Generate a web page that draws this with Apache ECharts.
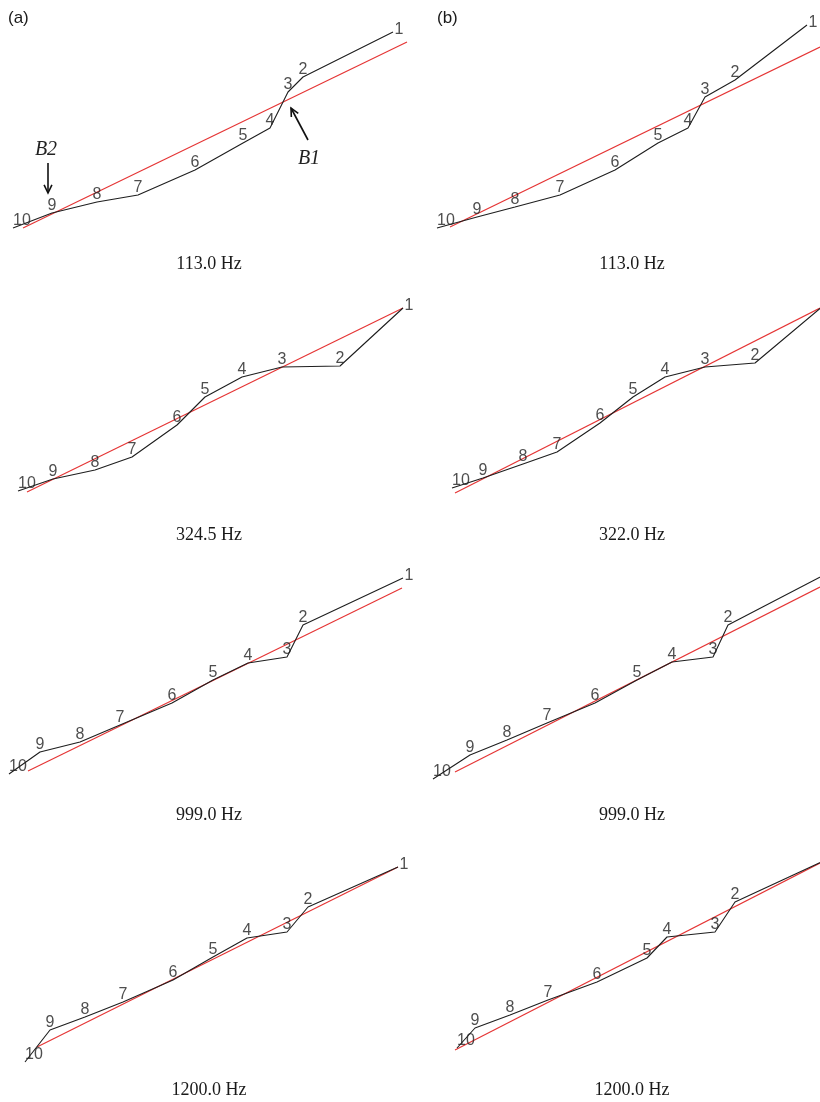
<!DOCTYPE html>
<html><head><meta charset="utf-8">
<script src="https://cdn.jsdelivr.net/npm/echarts@6/dist/echarts.min.js"></script>
<style>html,body{margin:0;padding:0;background:#fff}#c{width:820px;height:1102px}</style>
</head><body><div id="c"></div>
<script>
// Point labels (mode points 1..10)
const pointLabels = ['1','2','3','4','5','6','7','8','9','10'];
// Captions
const captionsA = ['113.0 Hz','324.5 Hz','999.0 Hz','1200.0 Hz'];
const captionsB = ['113.0 Hz','322.0 Hz','999.0 Hz','1200.0 Hz'];

// (a) 113.0 Hz
const a113X = [393,303,288,270,243,195,138,97,52,13];
const a113Y = [218,173,158,122,107,80,55,48,37,22];
const a113FitX = [23,407];
const a113FitY = [22,208];
// (b) 113.0 Hz
const b113X = [387,315,285,268,238,195,140,95,57,17];
const b113Y = [225,170,153,122,107,80,55,43,33,22];
const b113FitX = [30,400];
const b113FitY = [23,203];
// (a) 324.5 Hz
const a324X = [403,340,282,242,205,177,132,95,53,18];
const a324Y = [212,154,153,143,123,95,63,50,41,29];
const a324FitX = [27,403];
const a324FitY = [28,212];
// (b) 322.0 Hz
const b322X = [403,335,285,245,213,180,137,103,63,32];
const b322Y = [214,157,153,143,123,97,68,56,42,32];
const b322FitX = [35,400];
const b322FitY = [27,212];
// (a) 999.0 Hz
const a999X = [403,303,287,248,213,172,120,80,40,9];
const a999Y = [222,175,143,137,120,97,75,58,48,26];
const a999FitX = [28,402];
const a999FitY = [29,212];
// (b) 999.0 Hz
const b999X = [410,308,293,252,217,175,127,87,50,13];
const b999Y = [228,175,143,138,120,97,77,60,45,21];
const b999FitX = [35,400];
const b999FitY = [28,213];
// (a) 1200.0 Hz
const a1200X = [398,308,287,247,213,173,123,85,50,25];
const a1200Y = [203,163,138,132,113,90,68,53,40,8];
const a1200FitX = [37,398];
const a1200FitY = [23,203];
// (b) 1200.0 Hz
const b1200X = [410,315,295,247,227,177,128,90,55,37];
const b1200Y = [212,168,138,133,112,88,70,55,42,22];
const b1200FitX = [35,400];
const b1200FitY = [20,207];

const panels = [
  {x:a113X, y:a113Y, fx:a113FitX, fy:a113FitY, col:0, row:0, cap:captionsA[0]},
  {x:b113X, y:b113Y, fx:b113FitX, fy:b113FitY, col:1, row:0, cap:captionsB[0]},
  {x:a324X, y:a324Y, fx:a324FitX, fy:a324FitY, col:0, row:1, cap:captionsA[1]},
  {x:b322X, y:b322Y, fx:b322FitX, fy:b322FitY, col:1, row:1, cap:captionsB[1]},
  {x:a999X, y:a999Y, fx:a999FitX, fy:a999FitY, col:0, row:2, cap:captionsA[2]},
  {x:b999X, y:b999Y, fx:b999FitX, fy:b999FitY, col:1, row:2, cap:captionsB[2]},
  {x:a1200X, y:a1200Y, fx:a1200FitX, fy:a1200FitY, col:0, row:3, cap:captionsA[3]},
  {x:b1200X, y:b1200Y, fx:b1200FitX, fy:b1200FitY, col:1, row:3, cap:captionsB[3]}
];

const rowBottoms = [250, 520, 800, 1070];
const captionCenters = [264, 535, 815, 1090];
const colLeft = [0, 420], colWidth = [410, 400], capX = [209, 632];
const H = 250;

const zip = (xs, ys) => xs.map((v, i) => [v, ys[i]]);

const grid = [], xAxis = [], yAxis = [], series = [], title = [];
panels.forEach((p, i) => {
  grid.push({left: colLeft[p.col], top: rowBottoms[p.row] - H, width: colWidth[p.col], height: H});
  xAxis.push({type:'value', gridIndex:i, min:0, max:colWidth[p.col], show:false});
  yAxis.push({type:'value', gridIndex:i, min:0, max:H, show:false});
  series.push({
    type:'line', xAxisIndex:i, yAxisIndex:i, data: zip(p.fx, p.fy),
    showSymbol:false, symbol:'none', silent:true, animation:false,
    lineStyle:{color:'#e53535', width:1.2}, z:2
  });
  series.push({
    type:'line', xAxisIndex:i, yAxisIndex:i, data: zip(p.x, p.y),
    showSymbol:false, symbol:'none', silent:true, animation:false,
    lineStyle:{color:'#1e1e1e', width:1.1}, z:3
  });
  series.push({
    type:'scatter', xAxisIndex:i, yAxisIndex:i, animation:false, silent:true,
    symbolSize:1, itemStyle:{color:'rgba(0,0,0,0)'},
    data: zip(p.x, p.y).map((d, k) => {
      const lab = {show:true, formatter: pointLabels[k], position:'top', distance:-1};
      if (k === 0) { lab.position = 'right'; lab.distance = 1; lab.offset = [0,-2]; }
      if (k === 9) { lab.offset = [9, 0]; }
      return {value: d, label: lab};
    }),
    label:{fontFamily:'Liberation Sans', fontSize:16, color:'#222'},
    z:4
  });
  title.push({
    text: p.cap, left: capX[p.col], top: captionCenters[p.row] - 9, textAlign:'center', padding:0,
    textStyle:{fontFamily:'Liberation Serif', fontSize:18, fontWeight:'normal', color:'#1a1a1a'}
  });
});
title.push({text:'(a)', left:8, top:10, padding:0, textStyle:{fontFamily:'Liberation Sans', fontSize:17, fontWeight:'normal', color:'#1a1a1a'}});
title.push({text:'(b)', left:437, top:10, padding:0, textStyle:{fontFamily:'Liberation Sans', fontSize:17, fontWeight:'normal', color:'#1a1a1a'}});

const chart = echarts.init(document.getElementById('c'), null, {renderer:'canvas'});
chart.setOption({animation:false, backgroundColor:'#fff', grid, xAxis, yAxis, series, title});

// Annotations in panel (a) 113.0 Hz data coordinates
const arrowB2 = {tail:[48,87], tip:[48,57], label:'B2', at:[46,100]};
const arrowB1 = {tail:[308,110], tip:[291,142], label:'B1', at:[309,91]};
const graphic = [];
[arrowB2, arrowB1].forEach(a => {
  const t = chart.convertToPixel({gridIndex:0}, a.tail);
  const h = chart.convertToPixel({gridIndex:0}, a.tip);
  const ang = Math.atan2(t[1]-h[1], t[0]-h[0]);
  const L = 9, s = 0.45;
  const p1 = [h[0] + L*Math.cos(ang+s), h[1] + L*Math.sin(ang+s)];
  const p2 = [h[0] + L*Math.cos(ang-s), h[1] + L*Math.sin(ang-s)];
  graphic.push({type:'polyline', shape:{points:[t, h]}, style:{stroke:'#111', lineWidth:1.6, fill:null}});
  graphic.push({type:'polyline', shape:{points:[p1, h, p2]}, style:{stroke:'#111', lineWidth:1.6, fill:null}});
  const c = chart.convertToPixel({gridIndex:0}, a.at);
  graphic.push({type:'text', x:c[0], y:c[1], style:{text:a.label, fontFamily:'Liberation Serif', fontStyle:'italic', fontSize:20, fill:'#222', align:'center', verticalAlign:'middle'}});
});
chart.setOption({graphic});
</script></body></html>
